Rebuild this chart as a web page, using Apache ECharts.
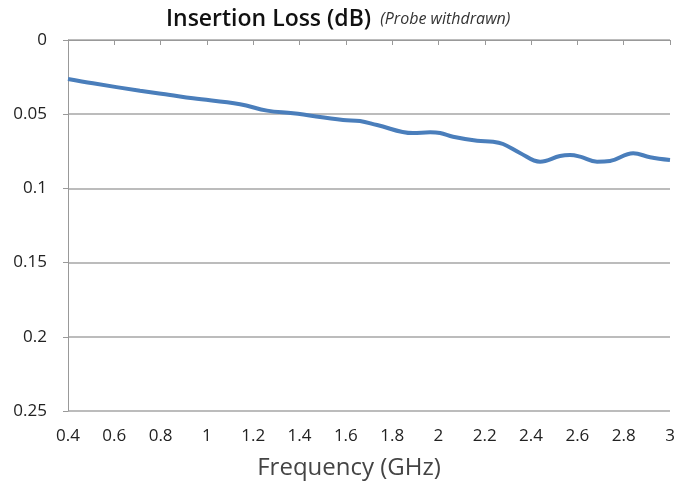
<!DOCTYPE html>
<html>
<head>
<meta charset="utf-8">
<script src="https://cdn.jsdelivr.net/npm/echarts@6/dist/echarts.min.js"></script>
<style>
html,body{margin:0;padding:0;background:#fff;}
#chart{width:691px;height:482px;}
</style>
</head>
<body>
<div id="chart"></div>
<script>
// frequency (GHz) and insertion loss (dB)
var freqGHz = [0.4, 0.508, 0.711, 0.841, 0.94, 1.143, 1.26, 1.372, 1.588, 1.661, 1.735, 1.89, 1.964, 2.007, 2.063, 2.167, 2.236, 2.279, 2.352, 2.439, 2.525, 2.568, 2.612, 2.685, 2.741, 2.841, 2.914, 3.0];
var lossDb = [0.0263, 0.0292, 0.0342, 0.0371, 0.0393, 0.0433, 0.0476, 0.0494, 0.0539, 0.0546, 0.0573, 0.0627, 0.0622, 0.0627, 0.0652, 0.0679, 0.0685, 0.0701, 0.0761, 0.082, 0.0782, 0.0775, 0.0786, 0.082, 0.0815, 0.0763, 0.079, 0.0809];

var pts = [];
for (var i = 0; i < freqGHz.length; i++) {
	pts.push([freqGHz[i], lossDb[i]]);
}

var myChart = echarts.init(document.getElementById('chart'));
myChart.setOption({
	animation: false,
	title: {
		text: '{a|Insertion Loss (dB)} {b| (Probe withdrawn)}',
		left: 161,
		top: 3,
		textStyle: {
			rich: {
				a: {fontFamily: 'Open Sans', fontSize: 23, fontWeight: 600, color: '#111'},
				b: {fontFamily: 'Open Sans', fontSize: 16, fontStyle: 'italic', fontWeight: 'normal', color: '#333'}
			}
		}
	},
	grid: {left: 68, right: 21, top: 40, bottom: 71, outerBoundsMode: 'none'},
	xAxis: {
		type: 'value',
		min: 0.4, max: 3, interval: 0.2,
		name: 'Frequency (GHz)',
		nameLocation: 'middle',
		nameGap: 45,
		nameTextStyle: {fontFamily: 'Open Sans', fontSize: 24, color: '#444', padding: [0, 40, 0, 0]},
		axisLine: {show: true, lineStyle: {color: '#999', width: 1}},
		axisTick: {show: true, length: 5, lineStyle: {color: '#999'}},
		axisLabel: {fontFamily: 'Open Sans', fontSize: 17, color: '#222', margin: 17,
			formatter: function (v) { return String(Math.round(v * 10) / 10); }},
		splitLine: {show: false}
	},
	yAxis: {
		type: 'value',
		inverse: true,
		min: 0, max: 0.25, interval: 0.05,
		axisLine: {show: true, lineStyle: {color: '#999', width: 1}},
		axisTick: {show: true, length: 5, lineStyle: {color: '#999'}},
		axisLabel: {fontFamily: 'Open Sans', fontSize: 17, color: '#222', margin: 21,
			formatter: function (v) { return String(Math.round(v * 100) / 100); }},
		splitLine: {show: true, lineStyle: {color: '#a6a6a6', width: 1.5}}
	},
	series: [{
		type: 'line',
		data: pts,
		smooth: 0.4,
		showSymbol: false,
		lineStyle: {color: '#4a7ebb', width: 4}
	}]
});
</script>
</body>
</html>
